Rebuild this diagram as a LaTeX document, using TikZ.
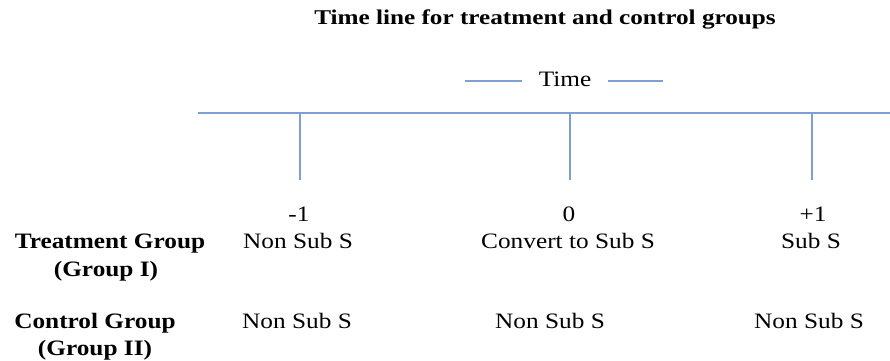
\documentclass[tikz,border=0pt]{standalone}
\usepackage{fontspec}
\setmainfont{Liberation Serif}
\definecolor{tl}{RGB}{125,160,208}
\begin{document}
\begin{tikzpicture}[x=1pt,y=-1pt,
  lbl/.style={inner sep=0pt,anchor=base,transform shape,xscale=1.15,font=\fontsize{22}{24}\selectfont},
  grp/.style={inner sep=0pt,anchor=base,transform shape,xscale=1.15,font=\fontsize{22}{24}\selectfont\bfseries},
  tline/.style={draw=tl,line width=2pt}]
\useasboundingbox (0,0) rectangle (890,360);
\node[inner sep=0pt,anchor=base,transform shape,xscale=1.2,font=\fontsize{21}{22}\selectfont\bfseries] (title) at (545,24) {Time line for treatment and control groups};
\node[lbl] (time) at (565,86) {Time};
\coordinate (tla) at (465,81); \coordinate (tlb) at (522,81);
\coordinate (tra) at (608,81); \coordinate (trb) at (663,81);
\draw[tline,line width=1.5pt] (tla) -- (tlb);
\draw[tline,line width=1.5pt] (tra) -- (trb);
\coordinate (axl) at (198,113); \coordinate (axr) at (890,113);
\draw[tline] (axl) -- (axr);
\coordinate (t1) at (300,113); \coordinate (t1b) at (300,180);
\coordinate (t2) at (570,113); \coordinate (t2b) at (570,180);
\coordinate (t3) at (812,113); \coordinate (t3b) at (812,180);
\draw[tline] (t1) -- (t1b);
\draw[tline] (t2) -- (t2b);
\draw[tline] (t3) -- (t3b);
\node[lbl] (m1) at (299,221) {-1};
\node[lbl] (z0) at (569,221) {0};
\node[lbl] (p1) at (813,221) {+1};
\node[lbl] (a1) at (298,248) {Non Sub S};
\node[lbl] (a2) at (568,248) {Convert to Sub S};
\node[lbl] (a3) at (811,248) {Sub S};
\node[grp] (tg) at (110,248) {Treatment Group};
\node[grp] (tg2) at (106,276) {(Group I)};
\node[lbl] (b1) at (297,328) {Non Sub S};
\node[lbl] (b2) at (550,328) {Non Sub S};
\node[lbl] (b3) at (809,328) {Non Sub S};
\node[grp] (cg) at (95,328) {Control Group};
\node[grp] (cg2) at (95,355) {(Group II)};
\end{tikzpicture}
\end{document}
